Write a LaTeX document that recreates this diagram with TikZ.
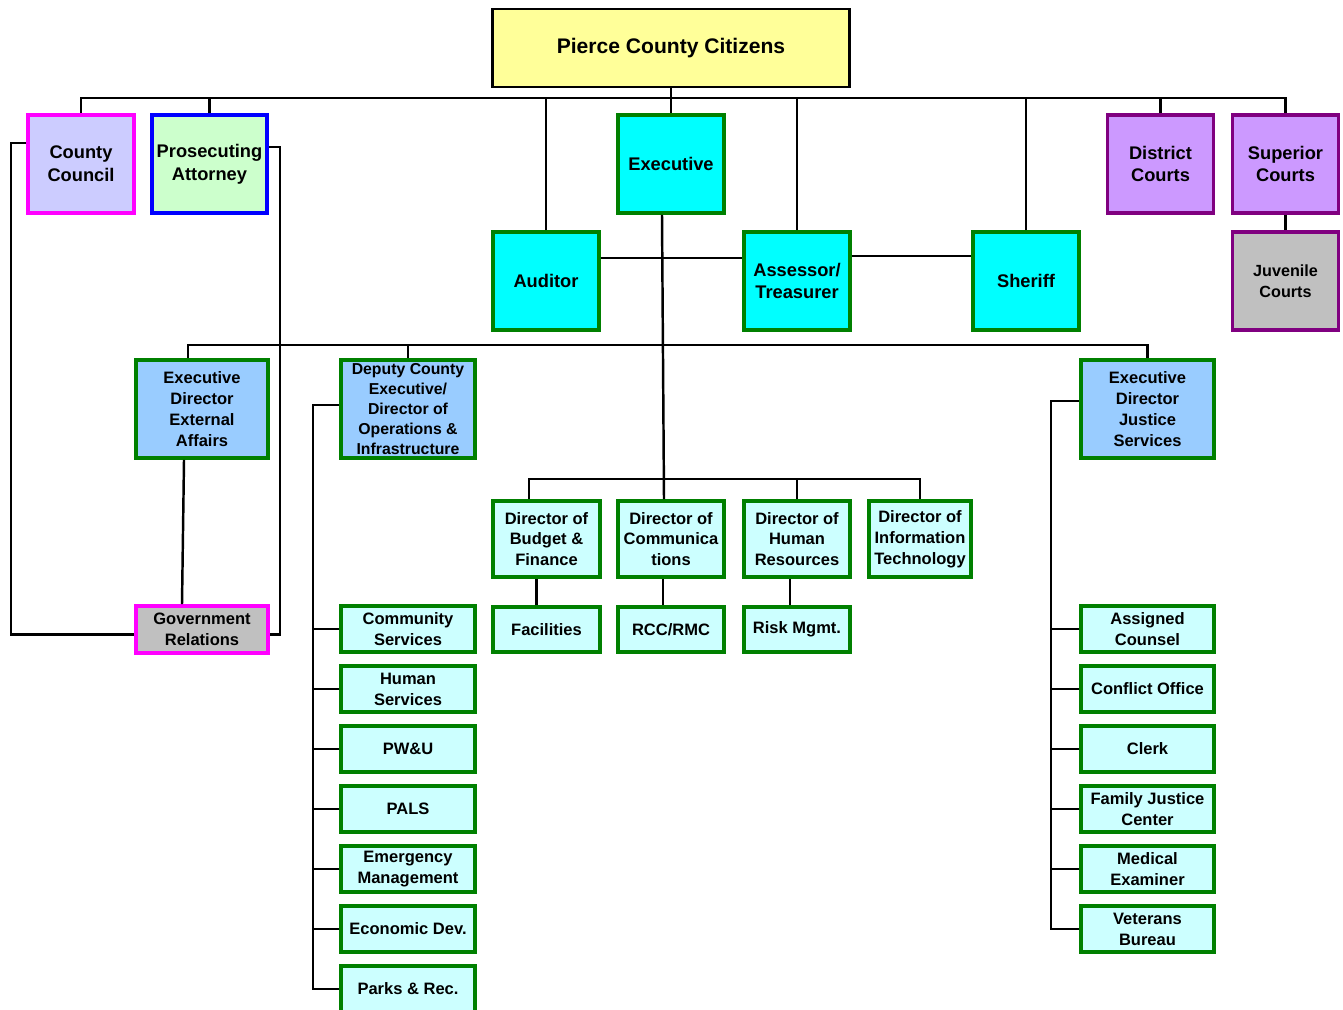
\documentclass[tikz,border=0pt]{standalone}
\usepackage{fontspec}
\setmainfont{Liberation Sans}
\usepackage{xcolor}
\usepackage{tikz}

\definecolor{boxgreen}{HTML}{008000}
\definecolor{boxpurple}{HTML}{800080}
\definecolor{boxmagenta}{HTML}{FF00FF}
\definecolor{boxblue}{HTML}{0000FF}
\definecolor{citfill}{HTML}{FFFF99}
\definecolor{topfill}{HTML}{00FFFF}
\definecolor{dirfill}{HTML}{99CCFF}
\definecolor{subfill}{HTML}{CCFFFF}
\definecolor{councilfill}{HTML}{CCCCFF}
\definecolor{prosecfill}{HTML}{CCFFCC}
\definecolor{courtfill}{HTML}{CC99FF}
\definecolor{grayfill}{HTML}{C0C0C0}

\begin{document}
\begin{tikzpicture}[x=0.02cm,y=-0.02cm,
  conn/.style={line width=1.4pt},
  box/.style={draw=boxgreen,line width=2.2pt,align=center,inner sep=1pt,
    font=\bfseries\fontsize{9.4}{11.9}\selectfont},
  bigbox/.style={box,minimum width=2.12cm,minimum height=1.96cm,
    font=\bfseries\fontsize{10.4}{13}\selectfont},
  citbox/.style={draw=black,line width=1.4pt,fill=citfill,
    minimum width=7.15cm,minimum height=1.55cm,font=\bfseries\fontsize{12}{14}\selectfont},
  dirbox/.style={box,fill=subfill,minimum width=2.12cm,minimum height=1.52cm},
  subbox/.style={box,fill=subfill,minimum width=2.12cm,minimum height=0.9cm},
  listbox/.style={box,fill=subfill,minimum height=0.92cm}]
  \useasboundingbox (0,0) rectangle (1343,1009);

  % Citizens and elected offices
  \node[citbox] (cit) at (671,48) {Pierce County Citizens};
  \node[bigbox,draw=boxmagenta,fill=councilfill] (council) at (81,164) {County\\Council};
  \node[bigbox,draw=boxblue,fill=prosecfill,minimum width=2.3cm] (prosec) at (209.5,164) {Prosecuting\\Attorney};
  \node[bigbox,fill=topfill] (exec) at (671,164) {Executive};
  \node[bigbox,draw=boxpurple,fill=courtfill] (district) at (1160.5,164) {District\\Courts};
  \node[bigbox,draw=boxpurple,fill=courtfill] (superior) at (1285.5,164) {Superior\\Courts};
  \node[bigbox,draw=boxpurple,fill=grayfill,font=\bfseries\fontsize{9.2}{11.9}\selectfont] (juvenile) at (1285.5,281) {Juvenile\\Courts};
  \node[bigbox,fill=topfill] (auditor) at (546,281) {Auditor};
  \node[bigbox,fill=topfill] (assessor) at (797,281) {Assessor/\\Treasurer};
  \node[bigbox,fill=topfill] (sheriff) at (1026,281) {Sheriff};

  % Executive directors
  \node[box,fill=dirfill,minimum width=2.64cm,minimum height=1.96cm] (extaff) at (202,409) {Executive\\Director\\External\\Affairs};
  \node[box,fill=dirfill,minimum width=2.68cm,minimum height=1.96cm,
    font=\bfseries\fontsize{9}{11.4}\selectfont] (deputy) at (408,409) {Deputy County\\Executive/\\Director of\\Operations \&\\Infrastructure};
  \node[box,fill=dirfill,minimum width=2.66cm,minimum height=1.96cm] (justice) at (1147.5,409) {Executive\\Director\\Justice\\Services};

  % Directors and their offices
  \node[dirbox,minimum width=2.14cm] (budget) at (546.5,539) {Director of\\Budget \&\\Finance};
  \node[dirbox] (comm) at (671,539) {Director of\\Communica\\tions};
  \node[dirbox] (hr) at (797,539) {Director of\\Human\\Resources};
  \node[dirbox,minimum width=2.04cm] (infotech) at (920,539) {Director of\\Information\\Technology};
  \node[subbox,minimum width=2.14cm] (facilities) at (546.5,629.5) {Facilities};
  \node[subbox] (rcc) at (671,629.5) {RCC/RMC};
  \node[subbox] (risk) at (797,629.5) {Risk Mgmt.};
  \node[box,draw=boxmagenta,fill=grayfill,minimum width=2.64cm,minimum height=0.94cm] (govrel) at (202,629.5) {Government\\Relations};

  % Operations departments
  \node[listbox,minimum width=2.68cm] (community) at (408,629) {Community\\Services};
  \node[listbox,minimum width=2.68cm] (human) at (408,689) {Human\\Services};
  \node[listbox,minimum width=2.68cm] (pwu) at (408,749) {PW\&U};
  \node[listbox,minimum width=2.68cm] (pals) at (408,809) {PALS};
  \node[listbox,minimum width=2.68cm] (emerg) at (408,869) {Emergency\\Management};
  \node[listbox,minimum width=2.68cm] (econ) at (408,929) {Economic Dev.};
  \node[listbox,minimum width=2.68cm] (parks) at (408,989) {Parks \& Rec.};

  % Justice departments
  \node[listbox,minimum width=2.66cm] (assigned) at (1147.5,629) {Assigned\\Counsel};
  \node[listbox,minimum width=2.66cm] (conflict) at (1147.5,689) {Conflict Office};
  \node[listbox,minimum width=2.66cm] (clerk) at (1147.5,749) {Clerk};
  \node[listbox,minimum width=2.66cm] (family) at (1147.5,809) {Family Justice\\Center};
  \node[listbox,minimum width=2.66cm] (medical) at (1147.5,869) {Medical\\Examiner};
  \node[listbox,minimum width=2.66cm] (veterans) at (1147.5,929) {Veterans\\Bureau};

  % Top bus
  \coordinate (bus) at (669,98);
  \draw[conn] (council.north) -- (council.north |- bus) -| (superior.north);
  \draw[conn] (cit.south) -- (cit.south |- bus);
  \foreach \n in {prosec,exec,district,auditor,assessor,sheriff}
    \draw[conn] (\n.north) -- (\n.north |- bus);
  \draw[conn] (superior.south) -- (juvenile.north);
  \draw[conn] ([yshift=0.46cm]auditor.east) -- ([yshift=0.46cm]assessor.west);
  \draw[conn] ([yshift=0.5cm]assessor.east) -- ([yshift=0.5cm]sheriff.west);

  % Executive line and buses
  \coordinate (bustwo) at (662,345);
  \coordinate (busthree) at (529,479);
  \draw[conn] ([xshift=-0.18cm]exec.south) -- ([xshift=-0.14cm]comm.north);
  \draw[conn] ([xshift=-0.28cm]extaff.north) -- ([xshift=-0.28cm]extaff.north |- bustwo) -| (justice.north);
  \draw[conn] (deputy.north) -- (deputy.north |- bustwo);
  \draw[conn] (budget.north -| busthree) -- (busthree) -| (infotech.north);
  \draw[conn] (hr.north) -- (hr.north |- busthree);
  \draw[conn] ([xshift=-0.2cm]budget.south) -- ([xshift=-0.2cm]facilities.north);
  \draw[conn] ([xshift=-0.16cm]comm.south) -- ([xshift=-0.16cm]rcc.north);
  \draw[conn] ([xshift=-0.14cm]hr.south) -- ([xshift=-0.14cm]risk.north);

  % Government relations
  \draw[conn] ([xshift=-0.36cm]extaff.south) -- ([xshift=-0.4cm]govrel.north);
  \draw[conn] ([yshift=0.42cm]council.west) -- ++(-15,0) |- ([yshift=-0.1cm]govrel.west);
  \draw[conn] ([yshift=0.34cm]prosec.east) -- ++(11,0) |- ([yshift=-0.1cm]govrel.east);

  % Department lines
  \coordinate (opsline) at (313,0);
  \coordinate (jusline) at (1051,0);
  \draw[conn] ([yshift=0.08cm]deputy.west) -| (opsline |- parks.west) -- (parks.west);
  \foreach \n in {community,human,pwu,pals,emerg,econ}
    \draw[conn] (\n.west) -- (\n.west -| opsline);
  \draw[conn] ([yshift=0.16cm]justice.west) -| (jusline |- veterans.west) -- (veterans.west);
  \foreach \n in {assigned,conflict,clerk,family,medical}
    \draw[conn] (\n.west) -- (\n.west -| jusline);
\end{tikzpicture}
\end{document}
